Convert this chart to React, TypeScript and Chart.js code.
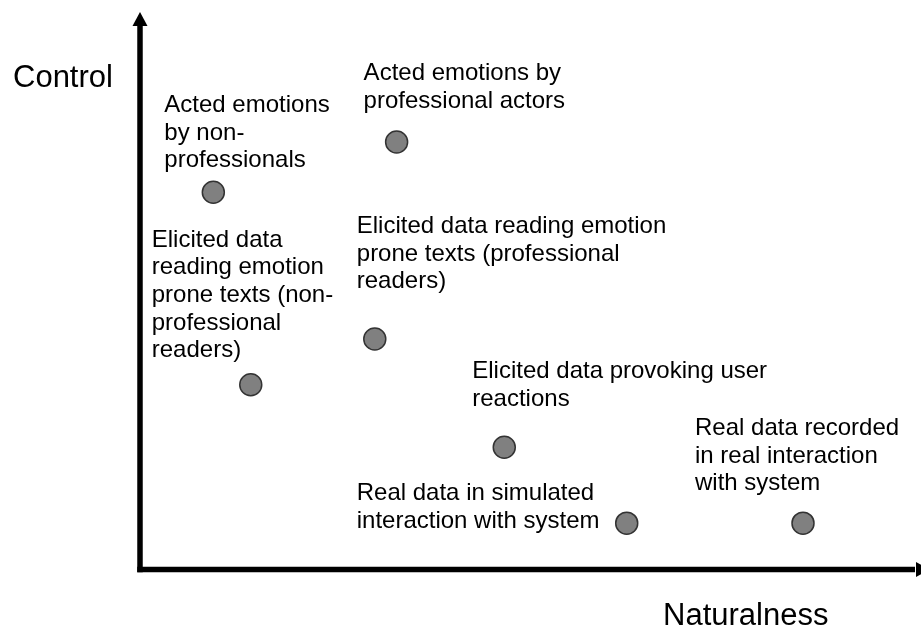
import React, { useEffect, useRef } from "react";
import { Chart, registerables } from "chart.js";

Chart.register(...registerables);

// ---- data ----
const categories: string[] = [
  "Acted emotions by non-professionals",
  "Acted emotions by professional actors",
  "Elicited data reading emotion prone texts (professional readers)",
  "Elicited data reading emotion prone texts (non-professional readers)",
  "Elicited data provoking user reactions",
  "Real data in simulated interaction with system",
  "Real data recorded in real interaction with system",
];

const labelLines: string[][] = [
  ["Acted emotions", "by non-", "professionals"],
  ["Acted emotions by", "professional actors"],
  ["Elicited data reading emotion", "prone texts (professional", "readers)"],
  ["Elicited data", "reading emotion", "prone texts (non-", "professional", "readers)"],
  ["Elicited data provoking user", "reactions"],
  ["Real data in simulated", "interaction with system"],
  ["Real data recorded", "in real interaction", "with system"],
];

const naturalness: number[] = [9.4, 32.9, 30.1, 14.2, 46.7, 62.4, 85.0];
const control: number[] = [67.7, 76.7, 41.4, 33.2, 22.0, 8.4, 8.4];

const xAxisTitle = "Naturalness";
const yAxisTitle = "Control";

// ---- layout (pixel offsets of label blocks relative to their point) ----
const labelOffsets: [number, number][] = [
  [-49, -80],
  [-33, -62],
  [-18, -106],
  [-99, -138],
  [-32, -69],
  [-270, -23],
  [-108, -88],
];

const FONT = '"Liberation Sans", Arial, Helvetica, sans-serif';

const axesPlugin = {
  id: "arrowAxes",
  beforeDatasetsDraw(chart: any) {
    const { ctx, chartArea } = chart;
    const left = chartArea.left;
    const bottom = chartArea.bottom - 0.5;
    const top = chartArea.top;
    const W = chart.width;
    ctx.save();
    ctx.fillStyle = "#000";
    ctx.strokeStyle = "#000";
    ctx.lineWidth = 5.5;
    ctx.lineCap = "butt";
    // vertical axis
    ctx.beginPath();
    ctx.moveTo(left, bottom + 2.75);
    ctx.lineTo(left, top + 12);
    ctx.stroke();
    ctx.beginPath();
    ctx.moveTo(left, top);
    ctx.lineTo(left - 7.5, top + 14);
    ctx.lineTo(left + 7.5, top + 14);
    ctx.closePath();
    ctx.fill();
    // horizontal axis
    ctx.beginPath();
    ctx.moveTo(left - 2.75, bottom);
    ctx.lineTo(W - 6, bottom);
    ctx.stroke();
    ctx.beginPath();
    ctx.moveTo(W + 9, bottom);
    ctx.lineTo(W - 5, bottom - 7.5);
    ctx.lineTo(W - 5, bottom + 7.5);
    ctx.closePath();
    ctx.fill();

    // axis titles
    ctx.font = `31px ${FONT}`;
    ctx.textBaseline = "alphabetic";
    ctx.textAlign = "left";
    ctx.fillText(yAxisTitle, 13, 87);
    ctx.fillText(xAxisTitle, 663, 625);
    ctx.restore();
  },
};

const labelsPlugin = {
  id: "pointLabels",
  afterDatasetsDraw(chart: any) {
    const { ctx } = chart;
    const meta = chart.getDatasetMeta(0);
    ctx.save();
    ctx.font = `24px ${FONT}`;
    ctx.fillStyle = "#000";
    ctx.textAlign = "left";
    ctx.textBaseline = "alphabetic";
    const lh = 27.6;
    meta.data.forEach((el: any, i: number) => {
      const [dx, dy] = labelOffsets[i];
      labelLines[i].forEach((line, j) => {
        ctx.fillText(line, el.x + dx, el.y + dy + j * lh);
      });
    });
    ctx.restore();
  },
};

export default function App() {
  const ref = useRef<HTMLCanvasElement | null>(null);
  useEffect(() => {
    if (!ref.current) return;
    const chart = new Chart(ref.current, {
      type: "scatter",
      data: {
        labels: categories,
        datasets: [
          {
            label: "Corpora",
            data: naturalness.map((x, i) => ({ x, y: control[i] })),
            pointRadius: 11,
            pointHoverRadius: 11,
            backgroundColor: "#808080",
            borderColor: "#333333",
            borderWidth: 1.5,
          },
        ],
      },
      options: {
        responsive: false,
        animation: false,
        layout: { autoPadding: false, padding: { left: 140, right: 1, top: 12, bottom: 60 } },
        plugins: {
          legend: { display: false },
          tooltip: { enabled: false },
          title: { display: false },
        },
        scales: {
          x: { type: "linear", min: 0, max: 100, display: false },
          y: { type: "linear", min: 0, max: 100, display: false },
        },
      },
      plugins: [axesPlugin, labelsPlugin],
    });
    return () => chart.destroy();
  }, []);
  return (
    <div style={{ position: "fixed", left: 0, top: 0, width: 921, height: 630, background: "#fff" }}>
      <canvas ref={ref} width={921} height={630} style={{ display: "block" }} />
    </div>
  );
}
